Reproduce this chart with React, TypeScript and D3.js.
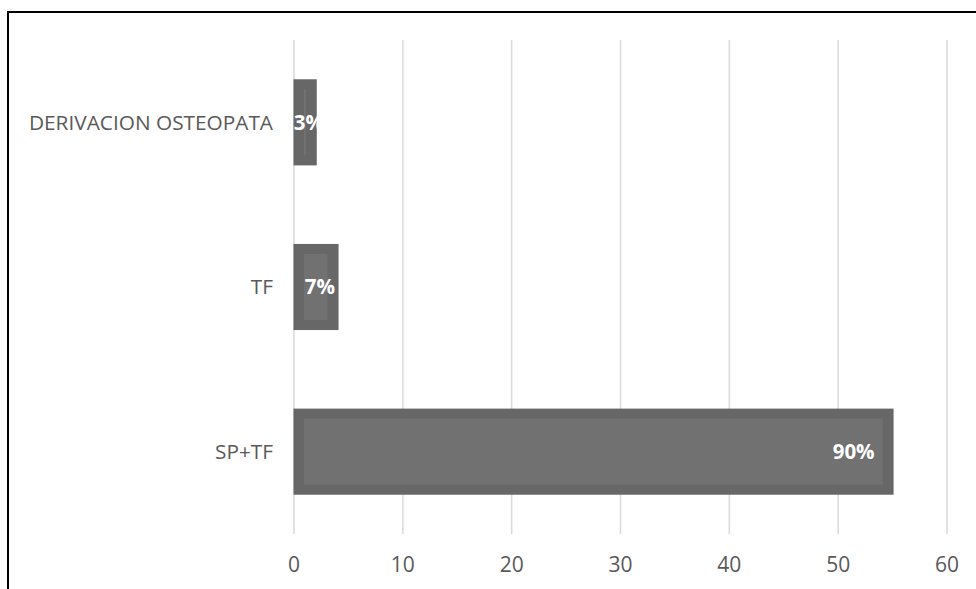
import React from "react";
import * as d3 from "d3";

const categories = ["DERIVACION OSTEOPATA", "TF", "SP+TF"];
const values = [2, 4, 55];
const labels = ["3%", "7%", "90%"];
const xTicks = [0, 10, 20, 30, 40, 50, 60];

const W = 976;
const H = 589;
const plot = { left: 294, right: 947, top: 40, bottom: 534 };

export default function App() {
  const x = d3.scaleLinear().domain([0, 60]).range([plot.left, plot.right]);
  const y = d3
    .scaleBand<string>()
    .domain(categories)
    .range([plot.top, plot.bottom])
    .paddingInner(0.477)
    .paddingOuter(0.2385);
  const font = "'Open Sans', sans-serif";
  const sw = 10;
  return (
    <svg
      width={W}
      height={H}
      style={{ position: "fixed", left: 0, top: 0, background: "#fff" }}
      fontFamily={font}
    >
      <rect x={0} y={0} width={W} height={H} fill="#fff" />
      <rect x={8} y={12} width={W + 20} height={H + 20} fill="none" stroke="#000" strokeWidth={2} />
      {xTicks.map((t) => (
        <line key={t} x1={x(t)} x2={x(t)} y1={plot.top} y2={plot.bottom} stroke="#d9d9d9" strokeWidth={1.5} />
      ))}
      {categories.map((c, i) => {
        const x0 = x(0);
        const x1 = x(values[i]);
        const yy = y(c)!;
        const bh = y.bandwidth();
        const bw = x1 - x0;
        const lw = labels[i].length * 12;
        const inside = bw > lw + 40;
        const cy = yy + bh / 2;
        return (
          <g key={c}>
            <rect x={x0 - 0.5} y={yy} width={bw + 1.5} height={bh} fill="#676767" />
            <rect
              x={x0 + Math.min(sw, bw / 2 - 1)}
              y={yy + sw}
              width={Math.max(bw - 2 * Math.min(sw, bw / 2 - 1), 0)}
              height={bh - 2 * sw}
              fill="#717171"
            />
            <text
              x={inside ? x1 - 18 : (x0 + x1) / 2 + 4}
              y={cy}
              dy="0.35em"
              textAnchor={inside ? "end" : "middle"}
              fill="#fff"
              fontWeight="bold"
              fontSize={20.5}
            >
              {labels[i]}
            </text>
            <text x={273} y={cy} dy="0.35em" textAnchor="end" fill="#595959" fontSize={20.8}>
              {c}
            </text>
          </g>
        );
      })}
      {xTicks.map((t) => (
        <text key={t} x={x(t)} y={565} dy="0.35em" textAnchor="middle" fill="#595959" fontSize={21}>
          {t}
        </text>
      ))}
    </svg>
  );
}
